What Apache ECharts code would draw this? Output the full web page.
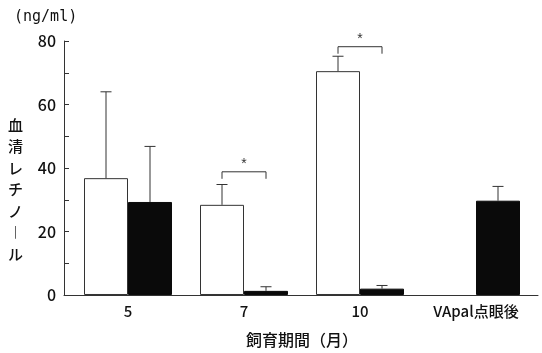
<!DOCTYPE html>
<html><head><meta charset="utf-8">
<script src="https://cdn.jsdelivr.net/npm/echarts@6/dist/echarts.min.js"></script>
<style>html,body{margin:0;padding:0;background:#fff}#c{width:542px;height:353px}</style>
</head><body><div id="c"></div>
<script>
const categories = ['5', '7', '10', 'VApal点眼後'];
const controlMean = [36.8, 28.4, 70.5, null];
const controlErr  = [64.0, 34.8, 75.2, null];
const vadMean     = [29.3, 1.3, 2.0, 29.7];
const vadErr      = [46.8, 2.6, 3.0, 34.2];
const sigCats     = [1, 2];
const sigLevels   = [38.8, 78.2];
const yTicks      = [0, 20, 40, 60, 80];

const FONT = '"Noto Sans CJK JP", "Liberation Sans", sans-serif';
const LINE = '#333';
const TEXT = '#111';
const HALF = 22;

const chart = echarts.init(document.getElementById('c'));

function errItem(offset) {
  return function (params, api) {
    const x = api.value(0), m = api.value(1), e = api.value(2);
    if (m == null || isNaN(m)) return null;
    const p0 = api.coord([x, m]);
    const p1 = api.coord([x, e]);
    const cx = p0[0] + offset;
    return {
      type: 'group',
      children: [
        { type: 'line', shape: { x1: cx, y1: p0[1], x2: cx, y2: p1[1] }, style: { stroke: LINE, lineWidth: 1 } },
        { type: 'line', shape: { x1: cx - 5.5, y1: p1[1], x2: cx + 5.5, y2: p1[1] }, style: { stroke: LINE, lineWidth: 1 } }
      ]
    };
  };
}

const errCtrlData = categories.map((c, i) => [i, controlMean[i], controlErr[i]]);
const errVadData = categories.map((c, i) => [i, vadMean[i], vadErr[i]]);
const sigData = sigCats.map((c, i) => [c, sigLevels[i]]);

chart.setOption({
  animation: false,
  backgroundColor: '#fff',
  grid: [
    { left: 64, right: 4, top: 41, bottom: 58 },
    { left: 70, right: 8, top: 41, bottom: 58 }
  ],
  xAxis: [
    { gridIndex: 0, type: 'category', data: categories, axisLine: { lineStyle: { color: LINE, width: 1 } }, axisTick: { show: false }, axisLabel: { show: false } },
    {
      gridIndex: 1, type: 'category', data: categories,
      axisLine: { show: false }, axisTick: { show: false },
      axisLabel: { color: TEXT, fontSize: 15, fontWeight: 500, fontFamily: FONT, margin: 9 },
      name: '飼育期間（月）', nameLocation: 'middle', nameGap: 37,
      nameTextStyle: { color: TEXT, fontSize: 16, fontWeight: 500, fontFamily: FONT }
    }
  ],
  yAxis: [
    {
      gridIndex: 0, type: 'value', min: 0, max: 80, interval: 10,
      axisLine: { show: true, lineStyle: { color: LINE, width: 1 } },
      axisTick: { show: true, inside: true, length: 5, lineStyle: { color: LINE } },
      splitLine: { show: false },
      axisLabel: { color: TEXT, fontSize: 16, fontWeight: 500, fontFamily: FONT, margin: 8,
        formatter: v => (yTicks.indexOf(v) >= 0 ? String(v) : '') },
      name: '\n\n血\n清\nレ\nチ\nノ\n︱\nル', nameLocation: 'middle', nameGap: 41, nameRotate: 0,
      nameTextStyle: { color: TEXT, fontSize: 15, fontWeight: 500, fontFamily: FONT, lineHeight: 21.5 }
    },
    { gridIndex: 1, type: 'value', min: 0, max: 80, show: false }
  ],
  graphic: [
    { type: 'text', left: 14, top: 10, style: { text: '(ng/ml)', fill: TEXT, font: '15px "DejaVu Sans Mono", monospace' } }
  ],
  series: [
    {
      type: 'bar', xAxisIndex: 1, yAxisIndex: 1, data: controlMean.map(v => v == null ? '-' : v),
      barWidth: 44, barGap: '0%',
      itemStyle: { color: '#fff', borderColor: LINE, borderWidth: 1 }
    },
    {
      type: 'bar', xAxisIndex: 1, yAxisIndex: 1, data: vadMean,
      barWidth: 44, barGap: '0%',
      itemStyle: { color: '#0a0a0a', borderColor: '#0a0a0a', borderWidth: 1 }
    },
    {
      type: 'custom', xAxisIndex: 1, yAxisIndex: 1, data: errCtrlData.filter(d => d[1] != null),
      renderItem: errItem(-HALF), z: 5
    },
    {
      type: 'custom', xAxisIndex: 1, yAxisIndex: 1, data: errVadData,
      renderItem: errItem(HALF), z: 5
    },
    {
      type: 'custom', xAxisIndex: 1, yAxisIndex: 1, data: sigData, z: 6,
      renderItem: function (params, api) {
        const p = api.coord([api.value(0), api.value(1)]);
        const l = p[0] - HALF, r = p[0] + HALF, y = p[1];
        return {
          type: 'group',
          children: [
            { type: 'polyline', shape: { points: [[l, y + 7], [l, y], [r, y], [r, y + 7]] }, style: { stroke: LINE, lineWidth: 1, fill: null } },
            { type: 'text', style: { text: '*', x: p[0], y: y - 1, fill: '#333', font: '14px "Liberation Sans", sans-serif', textAlign: 'center', textVerticalAlign: 'bottom' } }
          ]
        };
      }
    }
  ]
});
</script></body></html>
